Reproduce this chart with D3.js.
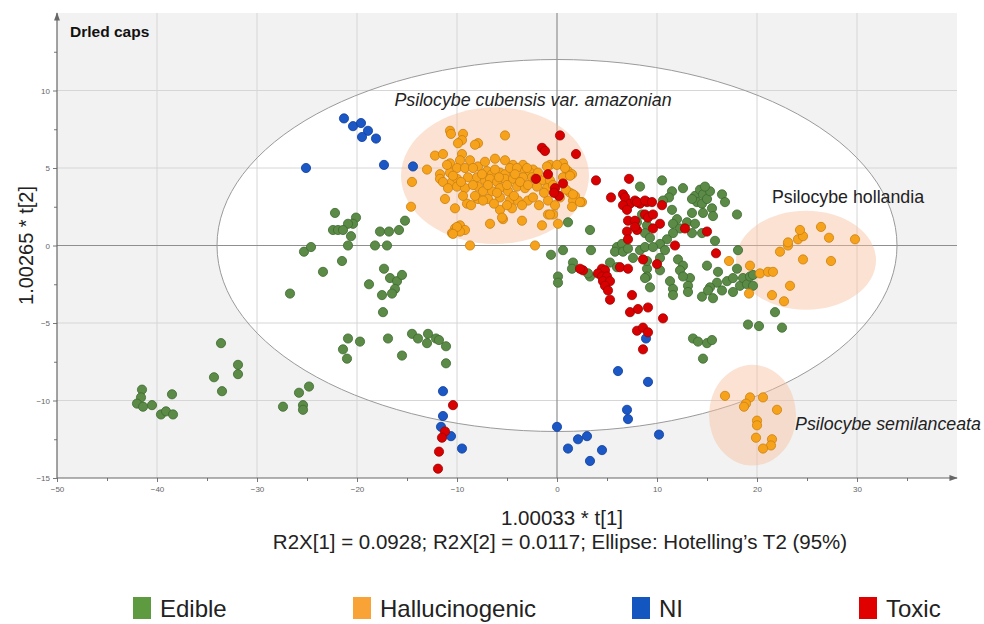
<!DOCTYPE html>
<html>
<head>
<meta charset="utf-8">
<script src="https://cdn.jsdelivr.net/npm/d3@7"></script>
<style>
  body { margin: 0; background: #fff; }
  svg { display: block; font-family: "Liberation Sans", Arial, sans-serif; }
  .tick text { fill: #666; font-size: 8px; }
</style>
</head>
<body>
<svg id="chart" width="984" height="624"></svg>
<script>
// score values: [t1, t2]
var edible = [
  [-41.5,-9.3],[-41.6,-9.8],[-42.0,-10.2],[-41.4,-10.4],[-40.5,-10.3],[-39.6,-10.9],[-39.1,-10.7],[-38.5,-9.6],[-38.4,-10.9],
  [-34.3,-8.5],[-33.6,-6.3],[-33.5,-9.4],[-31.9,-7.7],[-31.9,-8.3],[-27.4,-10.4],[-25.8,-9.5],[-25.4,-10.3],[-25.4,-10.6],[-24.8,-9.1],
  [-26.7,-3.1],[-25.3,-0.4],[-24.6,-0.1],[-23.4,-1.7],
  [-22.2,2.1],[-20.1,1.8],[-20.4,1.4],[-20.9,1.4],[-22.4,1.0],[-21.9,1.0],[-21.4,1.0],[-20.6,0.6],[-20.9,0.0],[-21.5,-1.0],
  [-17.7,0.9],[-16.8,0.9],[-15.8,1.0],[-15.2,1.6],[-18.2,0.0],[-17.0,0.0],[-17.3,-1.5],[-16.7,-2.1],[-16.0,-2.3],[-15.5,-1.9],
  [-18.8,-2.5],[-16.2,-2.8],[-16.5,-3.1],[-17.5,-3.2],[-17.4,-4.3],
  [-20.9,-6.0],[-21.4,-6.7],[-21.0,-7.3],[-19.7,-6.2],[-16.9,-6.0],[-15.5,-7.1],[-14.5,-5.7],[-13.9,-6.0],[-12.9,-5.7],[-13.0,-6.3],
  [-12.1,-6.0],[-11.8,-6.1],[-11.1,-6.5],[-11.1,-7.6],
  [1.1,1.5],[3.3,1.0],[-0.6,-0.6],[0.6,-0.3],[3.4,-0.3],[1.6,-1.1],[1.5,-1.5],[0.1,-2.0],[0.1,-2.4],[3.3,-2.0],[3.1,-1.8],
  [8.3,3.8],[6.0,-0.1],[6.5,0.1],[5.8,-0.4],[6.6,-0.4],[7.1,-0.2],[7.6,-0.8],[5.3,-1.1],[8.3,-0.3],[8.8,-0.1],[8.5,2.0],[8.0,1.5],
  [9.0,1.3],[6.0,-1.4],[9.0,-1.5],[9.0,-2.0],[8.8,0.8],[9.3,0.5],[9.0,-1.0],
  [10.5,4.2],[12.6,3.7],[13.8,3.2],[14.3,3.6],[14.6,3.3],[14.0,2.8],[14.5,2.7],[15.0,3.0],[15.3,3.5],[14.8,3.8],[13.5,3.0],
  [16.5,3.3],[16.8,2.8],[18.0,2.0],[15.5,2.4],[15.6,1.9],[14.6,2.1],[13.5,2.1],[11.5,3.5],[11.2,3.1],[10.6,2.9],[11.5,2.3],
  [12.0,1.7],[11.6,1.4],[13.0,1.5],[13.8,1.4],[13.5,0.8],[12.3,1.1],[11.6,0.8],[11.0,0.4],[10.3,0.1],[10.8,-0.3],[9.6,-0.1],
  [15.8,0.3],[14.5,0.8],[12.1,-0.9],[12.6,-1.3],[15.0,-1.3],[8.8,-2.1],[11.3,-2.3],[12.3,-1.6],[13.3,-2.1],[16.1,-1.7],
  [16.0,-2.4],[17.0,-2.3],[18.0,-1.5],[17.6,-2.1],[18.3,-2.6],[15.3,-2.7],[9.3,-2.7],[11.6,-2.8],[10.3,-1.6],[10.3,-0.8],
  [11.6,-3.2],[12.6,-2.0],[13.1,-2.6],[13.1,-3.0],[14.5,-3.3],[15.1,-2.9],[15.6,-3.4],[16.5,-2.9],[17.6,-3.0],[18.6,-2.1],
  [19.0,-2.5],[19.6,-2.6],[19.3,-2.0],[19.6,-1.9],[18.1,-0.3],[19.1,-5.1],[20.2,-5.2],[21.8,-4.3],[22.5,-5.3],
  [13.6,-6.0],[14.1,-6.2],[15.0,-6.3],[15.5,-6.1],[14.6,-7.3]
];

var hallucinogenic = [
  [-10.7,7.4],[-10.6,7.2],[-9.4,7.2],[-9.5,6.8],[-9.9,6.6],[-7.9,6.6],[-8.2,6.5],[-5.2,7.1],
  [-12.2,5.8],[-11.4,5.9],[-9.5,5.9],[-8.7,5.5],[-9.7,5.5],[-10.7,5.3],[-5.2,5.5],[-4.4,5.2],[-3.4,5.2],[-2.4,4.9],
  [0.6,5.3],[1.1,4.8],[-0.7,5.2],[0.0,5.2],[-13.0,4.9],[-11.7,4.6],[-10.7,4.7],[-10.0,5.0],[-9.2,5.0],[-7.9,5.1],
  [-7.0,4.8],[-6.5,4.6],[-5.7,4.7],[-5.2,4.6],[-4.7,5.0],[-4.0,5.0],[-3.2,4.8],[-2.7,4.7],[-1.9,4.7],[-1.0,5.1],[0.8,5.0],
  [1.5,4.6],[-11.7,4.3],[-11.4,4.1],[-10.5,4.1],[-10.0,4.3],[-8.9,4.4],[-8.0,4.4],[-7.2,4.2],[-6.7,4.3],[-6.0,4.1],[-5.2,4.3],
  [-4.4,4.3],[-3.4,4.4],[-2.5,4.4],[-1.5,4.2],[-0.7,4.2],[0.6,4.4],[1.3,4.5],[-10.9,3.7],[-10.0,3.8],[-9.2,3.7],[-7.9,3.8],
  [-7.4,3.5],[-6.5,3.5],[-5.7,3.7],[-4.9,3.5],[-4.0,3.8],[-3.2,3.7],[-2.0,3.8],[-1.0,3.7],[1.3,3.4],[1.8,3.2],[-11.2,3.0],
  [-9.0,2.7],[-7.9,3.0],[-6.9,3.0],[-5.7,3.1],[-4.7,2.9],[-3.9,2.9],[-2.9,2.9],[-0.9,2.9],[1.6,2.9],[2.5,2.8],[1.5,2.5],
  [-5.7,2.3],[-5.4,1.7],[-4.5,2.4],[-3.5,1.6],[-6.7,1.4],[-9.7,1.3],[-1.5,1.3],[-0.9,2.0],[-0.4,2.0],[0.1,1.4],[-14.6,2.5],
  [-14.5,4.1],[-10.2,1.1],[-9.2,1.0],[-10.5,0.8],[-9.7,0.9],[-8.7,0.0],[-2.2,0.0],
  [-8.4,5.0],[-7.5,4.6],[-6.2,4.9],[-5.8,4.4],[-4.2,4.6],[-3.7,4.1],[-2.9,3.9],[-2.2,4.3],[-1.3,3.4],[-0.4,3.9],[0.3,3.1],
  [-5.0,3.9],[-6.0,3.4],[-6.9,3.9],[-8.4,3.9],[-9.6,4.1],[-10.4,4.5],[-8.2,3.2],[-6.3,2.7],[-4.3,3.2],[-3.5,2.6],[-2.4,3.1],
  [-1.8,2.6],[-5.0,2.6],[-7.4,2.9],[-8.6,2.6],[-10.2,2.4],[-9.4,3.2],[-0.2,2.6],[0.9,3.6],[-3.0,5.0],[-6.2,5.6],[-7.2,5.4],
  [-11.0,5.2],[-10.0,1.2],[-10.4,0.75],[-5.5,1.8],[-0.7,2.0],[1.6,3.3],[2.3,2.8],
  // P. hollandia
  [17.2,-1.0],[19.3,-1.3],[20.3,-1.8],[21.1,-1.7],[21.6,-1.7],[19.2,-3.1],[21.5,-3.2],[22.7,-3.6],[23.3,-2.6],[22.3,-0.4],
  [23.1,0.0],[23.1,0.2],[24.1,0.4],[24.6,0.6],[24.3,1.0],[26.4,1.2],[27.2,0.5],[29.8,0.4],[24.6,-0.9],[27.4,-1.0],
  // P. semilanceata
  [16.8,-9.7],[19.3,-9.8],[18.9,-10.2],[18.7,-10.4],[20.6,-9.8],[22.0,-10.6],[20.0,-11.3],[20.0,-11.6],[19.9,-12.4],
  [21.5,-12.5],[21.4,-12.9],[20.6,-13.1]
];

var ni = [
  [-21.3,8.2],[-20.4,7.7],[-19.6,7.9],[-18.9,7.4],[-19.5,7.0],[-18.1,6.9],[-17.3,5.2],[-14.4,5.1],[-25.1,5.0],
  [-11.4,-9.4],[-11.4,-11.0],[-11.6,-11.7],[-10.6,-12.3],[-9.5,-13.1],[0.0,-11.7],[1.1,-13.1],[2.1,-12.5],[3.0,-12.3],
  [3.3,-13.9],[4.5,-13.2],[6.1,-8.1],[7.0,-10.6],[7.1,-11.2],[9.1,-8.8],[10.2,-12.2],[8.9,-6.0]
];

var toxic = [
  [0.3,7.1],[-1.5,6.3],[-1.2,6.1],[1.9,5.9],[-0.9,4.6],[-2.1,4.3],[-0.2,3.7],[0.6,4.0],[0.2,3.2],[-0.3,3.4],
  [3.9,4.2],[7.2,4.3],[5.4,3.1],[6.6,3.3],[6.8,3.1],[7.3,2.7],[6.6,2.6],[8.3,2.7],[7.8,2.9],[9.0,2.8],[8.0,2.8],
  [8.8,2.9],[7.0,2.3],[7.1,1.6],[7.8,1.6],[8.0,1.0],[7.0,0.9],[7.8,1.2],[7.1,0.4],[8.6,-0.9],[6.3,-1.4],[7.1,-1.5],
  [2.6,-1.6],[2.3,-1.5],[4.5,-1.5],[4.8,-1.6],[4.1,-1.8],[4.5,-2.0],[5.0,-2.0],[4.6,-2.3],[5.3,-2.3],[4.8,-2.6],[5.1,-2.9],
  [9.5,2.8],[8.8,2.0],[9.1,1.8],[9.6,2.0],[10.5,2.6],[10.3,1.4],[9.6,1.1],[12.8,1.1],[15.0,0.9],[11.8,0.0],[15.9,-0.5],
  [10.0,-1.2],[5.3,-3.5],[7.5,-3.2],[7.3,-4.3],[8.1,-4.1],[9.1,-4.0],[10.6,-4.7],[8.0,-5.5],[8.6,-5.3],[9.1,-5.6],[8.6,-6.7],
  [-10.4,-10.3],[-11.2,-12.0],[-11.5,-12.4],[-11.8,-13.3],[-11.9,-14.4]
];

var groups = ['Edible', 'Hallucinogenic', 'NI', 'Toxic'];
var groupData = [edible, hallucinogenic, ni, toxic];
var fills = ['#5b8b47', '#f7a21b', '#1b57c5', '#d80000'];
var strokes = ['#3e6a30', '#c98011', '#0f3d99', '#a00000'];
var legendFills = ['#5e9b40', '#f9a236', '#1456c0', '#e00000'];

var xTicks = [-50, -40, -30, -20, -10, 0, 10, 20, 30];
var yTicks = [-15, -10, -5, 0, 5, 10];

// species highlight ellipses: centre t1, t2 and radii in t units
var species = [
  { name: 'Psilocybe cubensis var. amazonian', cx: -6.2, cy: 4.5, rx: 9.4, ry: 4.4 },
  { name: 'Psilocybe hollandia', cx: 24.9, cy: -0.95, rx: 7.0, ry: 3.2 },
  { name: 'Psilocybe semilanceata', cx: 19.55, cy: -10.95, rx: 4.35, ry: 3.25 }
];
var hotelling = { rx: 34, ry: 12 };

///////////////////////////////////////////////////////////////
// draw the chart
///////////////////////////////////////////////////////////////

var svg = d3.select('#chart');
var x = d3.scaleLinear().domain([-50, 40]).range([57, 957]);
var y = d3.scaleLinear().domain([-15, 15]).range([478, 13]);

var defs = svg.append('defs');
defs.append('marker')
  .attr('id', 'arrow')
  .attr('viewBox', '0 0 10 10')
  .attr('refX', 9).attr('refY', 5)
  .attr('markerWidth', 7).attr('markerHeight', 7)
  .attr('orient', 'auto')
  .append('path')
  .attr('d', 'M0,1.5 L10,5 L0,8.5 Z')
  .attr('fill', '#666');

// plot background
svg.append('rect')
  .attr('x', x(-50)).attr('y', y(15))
  .attr('width', x(40) - x(-50)).attr('height', y(-15) - y(15))
  .attr('fill', '#f2f2f2');

// Hotelling T2 ellipse
svg.append('ellipse')
  .attr('cx', x(0)).attr('cy', y(0))
  .attr('rx', x(hotelling.rx) - x(0)).attr('ry', y(0) - y(hotelling.ry))
  .attr('fill', '#fff');

// grid
svg.selectAll('.vgrid')
  .data(xTicks.filter(d => d !== -50 && d !== 0))
  .enter().append('line')
  .attr('class', 'vgrid')
  .attr('x1', d => x(d)).attr('x2', d => x(d))
  .attr('y1', y(15)).attr('y2', y(-15))
  .attr('stroke', '#d6d6d6').attr('stroke-width', 1);

svg.selectAll('.hgrid')
  .data(yTicks.filter(d => d !== -15 && d !== 0))
  .enter().append('line')
  .attr('class', 'hgrid')
  .attr('x1', x(-50)).attr('x2', x(40))
  .attr('y1', d => y(d)).attr('y2', d => y(d))
  .attr('stroke', '#d6d6d6').attr('stroke-width', 1);

svg.append('line')
  .attr('x1', x(0)).attr('x2', x(0)).attr('y1', y(15)).attr('y2', y(-15))
  .attr('stroke', '#8f8f8f').attr('stroke-width', 1.2);
svg.append('line')
  .attr('x1', x(-50)).attr('x2', x(40)).attr('y1', y(0)).attr('y2', y(0))
  .attr('stroke', '#8f8f8f').attr('stroke-width', 1.2);

svg.append('ellipse')
  .attr('cx', x(0)).attr('cy', y(0))
  .attr('rx', x(hotelling.rx) - x(0)).attr('ry', y(0) - y(hotelling.ry))
  .attr('fill', 'none')
  .attr('stroke', '#9a9a9a').attr('stroke-width', 1);

// species ellipses
svg.selectAll('.species')
  .data(species)
  .enter().append('ellipse')
  .attr('class', 'species')
  .attr('cx', d => x(d.cx)).attr('cy', d => y(d.cy))
  .attr('rx', d => x(d.rx) - x(0)).attr('ry', d => y(0) - y(d.ry))
  .attr('fill', '#f7be9c').attr('fill-opacity', 0.45);

// points
groupData.forEach(function (pts, i) {
  svg.append('g')
    .selectAll('circle')
    .data(pts)
    .enter().append('circle')
    .attr('cx', d => x(d[0]))
    .attr('cy', d => y(d[1]))
    .attr('r', 4.6)
    .attr('fill', fills[i])
    .attr('stroke', strokes[i])
    .attr('stroke-width', 0.8);
});

// axes
var xAxis = d3.axisBottom(x).tickValues(xTicks).tickSize(4).tickFormat(d3.format('d'));
var xMinor = d3.axisBottom(x).tickValues(xTicks.map(d => d + 5)).tickSize(3).tickFormat('');
var gx = svg.append('g').attr('transform', 'translate(0,' + y(-15) + ')');
gx.call(xAxis);
gx.append('g').call(xMinor);
gx.selectAll('.domain').remove();
gx.selectAll('line').attr('stroke', '#777');
gx.selectAll('text').attr('dy', '0.9em');

var yAxis = d3.axisLeft(y).tickValues(yTicks).tickSize(4).tickFormat(d3.format('d'));
var yMinor = d3.axisLeft(y).tickValues(yTicks.map(d => d + 2.5)).tickSize(3).tickFormat('');
var gy = svg.append('g').attr('transform', 'translate(' + x(-50) + ',0)');
gy.call(yAxis);
gy.append('g').call(yMinor);
gy.selectAll('.domain').remove();
gy.selectAll('line').attr('stroke', '#777');

svg.append('line')
  .attr('x1', x(-50)).attr('x2', x(40)).attr('y1', y(-15)).attr('y2', y(-15))
  .attr('stroke', '#666').attr('stroke-width', 1.2)
  .attr('marker-end', 'url(#arrow)');
svg.append('line')
  .attr('x1', x(-50)).attr('x2', x(-50)).attr('y1', y(-15)).attr('y2', y(15))
  .attr('stroke', '#666').attr('stroke-width', 1.2)
  .attr('marker-end', 'url(#arrow)');

// texts
svg.append('text')
  .attr('x', 70).attr('y', 37)
  .attr('font-size', 15.5).attr('font-weight', 'bold')
  .attr('fill', '#111')
  .text('Drled caps');

svg.append('text')
  .attr('transform', 'translate(33,' + y(0) + ') rotate(-90)')
  .attr('text-anchor', 'middle')
  .attr('font-size', 20).attr('fill', '#222')
  .text('1.00265 * t[2]');

svg.append('text')
  .attr('x', 562).attr('y', 525)
  .attr('text-anchor', 'middle')
  .attr('font-size', 20.5).attr('fill', '#222')
  .text('1.00033 * t[1]');

svg.append('text')
  .attr('x', 560).attr('y', 549)
  .attr('text-anchor', 'middle')
  .attr('font-size', 20.5).attr('fill', '#222')
  .text('R2X[1] = 0.0928; R2X[2] = 0.0117; Ellipse: Hotelling\u2019s T2 (95%)');

// species labels
var labelPos = [[533, 106, 'italic'], [848, 203, 'normal'], [888, 430, 'italic']];
svg.selectAll('.species-label')
  .data(species)
  .enter().append('text')
  .attr('class', 'species-label')
  .attr('x', (d, i) => labelPos[i][0])
  .attr('y', (d, i) => labelPos[i][1])
  .attr('text-anchor', 'middle')
  .attr('font-size', 17.8)
  .attr('font-style', (d, i) => labelPos[i][2])
  .attr('fill', '#222')
  .text(d => d.name);

// legend
var legendX = [133, 353, 632, 859];
var legend = svg.selectAll('.legend')
  .data(groups)
  .enter().append('g')
  .attr('class', 'legend')
  .attr('transform', (d, i) => 'translate(' + legendX[i] + ',597)');
legend.append('rect')
  .attr('width', 18).attr('height', 22)
  .attr('fill', (d, i) => legendFills[i]);
legend.append('text')
  .attr('x', 27).attr('y', 20)
  .attr('font-size', 24).attr('fill', '#222')
  .text(d => d);
</script>
</body>
</html>
